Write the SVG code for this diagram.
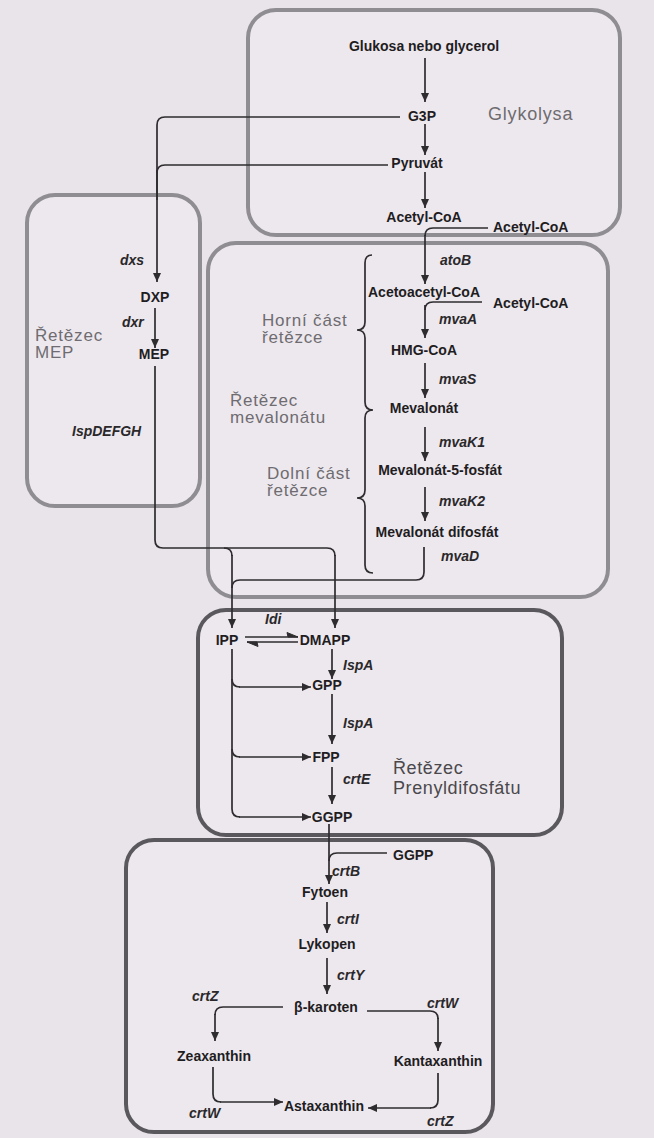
<svg xmlns="http://www.w3.org/2000/svg" width="654" height="1138" viewBox="0 0 654 1138">
<style>
.box{fill:#ede8ee;stroke:#8f8d91;stroke-width:4}
.boxd{fill:#ede8ee;stroke:#5a585c;stroke-width:4}
.n{font-family:"Liberation Sans",Arial,sans-serif;font-weight:bold;font-size:14px;fill:#1f1d1f}
.g{font-family:"Liberation Sans",Arial,sans-serif;font-weight:bold;font-style:italic;font-size:14px;fill:#2a282a}
.t{font-family:"Liberation Sans",Arial,sans-serif;font-size:17px;fill:#6e6c70;letter-spacing:0.8px}
.td{font-family:"Liberation Sans",Arial,sans-serif;font-size:18px;fill:#4a484c;letter-spacing:0.6px}
.c{fill:none;stroke:#2e2c2e;stroke-width:1.7}
.a{marker-end:url(#ah)}
.m{text-anchor:middle}
</style>
<defs>
<marker id="ah" markerUnits="userSpaceOnUse" markerWidth="9" markerHeight="8" refX="9" refY="4" orient="auto">
<path d="M0,0 L9,4 L0,8 z" fill="#2e2c2e"/>
</marker>
</defs>
<rect width="654" height="1138" fill="#e9e3ea"/>

<g id="box-glykolysa"><rect class="box" x="248" y="10" width="372" height="225" rx="28"/><text class="t" x="488" y="120" style="font-size:18px">Glykolysa</text></g>
<g id="box-mep"><rect class="box" x="27" y="195" width="173" height="311" rx="28"/><text class="t" x="35" y="341">Řetězec</text><text class="t" x="35" y="358">MEP</text></g>
<g id="box-mevalonat"><rect class="box" x="208" y="243" width="400" height="354" rx="28"/>
<text class="t" x="262" y="326">Horní část</text><text class="t" x="262" y="343">řetězce</text>
<text class="t" x="230" y="406">Řetězec</text><text class="t" x="230" y="423">mevalonátu</text>
<text class="t" x="267" y="479">Dolní část</text><text class="t" x="267" y="496">řetězce</text>
<path class="c" d="M372,255 Q365,255 365,263 V322 Q365,330 357,330 Q365,330 365,338 V402 Q365,410 373,410 M373,410 Q365,410 365,418 V490 Q365,498 357,498 Q365,498 365,506 V565 Q365,573 373,573"/>
</g>
<g id="box-prenyl"><rect class="boxd" x="198" y="610" width="364" height="225" rx="28"/><text class="td" x="393" y="774">Řetězec</text><text class="td" x="393" y="794">Prenyldifosfátu</text></g>
<g id="box-karotenoidy"><rect class="boxd" x="126" y="840" width="367" height="292" rx="28"/></g>

<g id="connectors">
<path class="c a" d="M425,58 V102"/>
<path class="c a" d="M425,124 V155"/>
<path class="c a" d="M425,172 V208"/>
<path class="c" d="M400,117 H165 Q157,117 157,125 V200"/>
<path class="c" d="M388,165 H165 Q157,165 157,173"/>
<path class="c a" d="M157,170 V282"/>
<path class="c a" d="M155,308 V348"/>
<path class="c" d="M155,366 V540 Q155,548 163,548 H327 Q335,548 335,556"/>
<path class="c a" d="M335,555 V628"/>
<path class="c" d="M224,548 Q232,548 232,556"/>
<path class="c a" d="M232,555 V628"/>
<path class="c" d="M488,228 H433 Q425,228 425,236"/>
<path class="c a" d="M425,235 V284"/>
<path class="c" d="M482,302 H433 Q425,302 425,310"/>
<path class="c a" d="M425,305 V338"/>
<path class="c a" d="M425,363 V398"/>
<path class="c a" d="M425,427 V461"/>
<path class="c a" d="M425,487 V521"/>
<path class="c" d="M424,547 V572 Q424,580 416,580 H240 Q232,580 232,588"/>
<path class="c" d="M245,637 H298 M247,642 H298"/>
<path d="M298,637 L287,632.5 L288,637 z M247,642 L258,646.5 L257,642 z" fill="#2e2c2e" stroke="#2e2c2e" stroke-width="1"/>
<path class="c a" d="M332,649 V679"/>
<path class="c a" d="M332,694 V744"/>
<path class="c a" d="M332,767 V804"/>
<path class="c" d="M232,649 V809 Q232,817 240,817"/>
<path class="c a" d="M239,817 H311"/>
<path class="c" d="M232,679 Q232,687 240,687"/>
<path class="c a" d="M239,687 H311"/>
<path class="c" d="M232,749 Q232,757 240,757"/>
<path class="c a" d="M239,757 H311"/>
<path class="c a" d="M329,824 V884"/>
<path class="c" d="M387,853 H337 Q329,853 329,861"/>
<path class="c a" d="M327,902 V933"/>
<path class="c a" d="M327,958 V994"/>
<path class="c" d="M283,1007 H223 Q215,1007 215,1015"/>
<path class="c a" d="M215,1014 V1041"/>
<path class="c" d="M367,1011 H430 Q438,1011 438,1019"/>
<path class="c a" d="M438,1018 V1051"/>
<path class="c" d="M213,1067 V1094 Q213,1102 221,1102"/>
<path class="c a" d="M220,1102 H283"/>
<path class="c" d="M438,1073 V1100 Q438,1108 430,1108"/>
<path class="c a" d="M431,1108 H368"/>
</g>

<g id="n-glukosa"><text class="n m" x="424" y="51">Glukosa nebo glycerol</text></g>
<g id="n-g3p"><text class="n m" x="422" y="121">G3P</text></g>
<g id="n-pyruvat"><text class="n m" x="417" y="168">Pyruvát</text></g>
<g id="n-acetylcoa1"><text class="n m" x="424" y="222">Acetyl-CoA</text></g>
<g id="n-acetylcoa2"><text class="n" x="493" y="232">Acetyl-CoA</text></g>
<g id="n-dxp"><text class="g" x="120" y="265">dxs</text><text class="n m" x="155" y="302">DXP</text></g>
<g id="n-mep"><text class="g" x="122" y="327">dxr</text><text class="n m" x="154" y="359">MEP</text><text class="g" x="72" y="436">IspDEFGH</text></g>
<g id="n-acetoacetyl"><text class="g" x="440" y="265">atoB</text><text class="n m" x="424" y="297">Acetoacetyl-CoA</text></g>
<g id="n-acetylcoa3"><text class="n" x="493" y="308">Acetyl-CoA</text></g>
<g id="n-hmg"><text class="g" x="439" y="324">mvaA</text><text class="n m" x="424" y="355">HMG-CoA</text></g>
<g id="n-mevalonat"><text class="g" x="439" y="384">mvaS</text><text class="n m" x="424" y="413">Mevalonát</text></g>
<g id="n-mev5p"><text class="g" x="439" y="447">mvaK1</text><text class="n m" x="440" y="475">Mevalonát-5-fosfát</text></g>
<g id="n-mevdp"><text class="g" x="439" y="506">mvaK2</text><text class="n m" x="437" y="537">Mevalonát difosfát</text><text class="g" x="441" y="561">mvaD</text></g>
<g id="n-ipp"><text class="n m" x="227" y="645">IPP</text><text class="g" x="265" y="624">Idi</text></g>
<g id="n-dmapp"><text class="n m" x="325" y="645">DMAPP</text></g>
<g id="n-gpp"><text class="g" x="343" y="670">IspA</text><text class="n m" x="327" y="690">GPP</text></g>
<g id="n-fpp"><text class="g" x="343" y="728">IspA</text><text class="n m" x="326" y="762">FPP</text></g>
<g id="n-ggpp"><text class="g" x="343" y="784">crtE</text><text class="n m" x="332" y="822">GGPP</text></g>
<g id="n-ggpp2"><text class="n" x="393" y="860">GGPP</text></g>
<g id="n-fytoen"><text class="g" x="332" y="876">crtB</text><text class="n m" x="325" y="897">Fytoen</text></g>
<g id="n-lykopen"><text class="g" x="337" y="924">crtI</text><text class="n m" x="327" y="949">Lykopen</text></g>
<g id="n-karoten"><text class="g" x="337" y="980">crtY</text><text class="n m" x="326" y="1012">β-karoten</text></g>
<g id="n-zeaxanthin"><text class="g" x="192" y="1001">crtZ</text><text class="n m" x="214" y="1061">Zeaxanthin</text></g>
<g id="n-kantaxanthin"><text class="g" x="427" y="1008">crtW</text><text class="n m" x="438" y="1066">Kantaxanthin</text></g>
<g id="n-astaxanthin"><text class="n m" x="324" y="1111">Astaxanthin</text><text class="g" x="189" y="1118">crtW</text><text class="g" x="427" y="1126">crtZ</text></g>
</svg>
